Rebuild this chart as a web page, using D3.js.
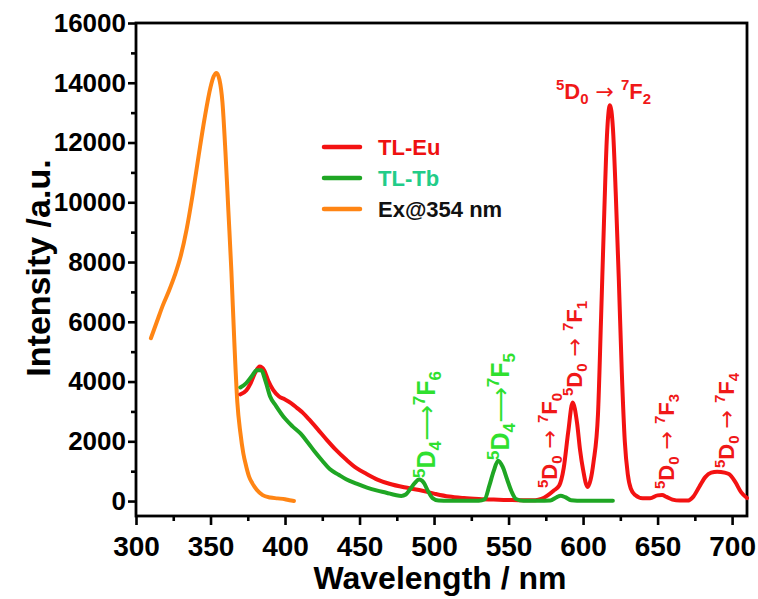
<!DOCTYPE html>
<html>
<head>
<meta charset="utf-8">
<script src="https://cdn.jsdelivr.net/npm/d3@7"></script>
<style>
  body { margin: 0; background: #fff; }
  svg { display: block; }
  text { font-family: "Liberation Sans", Arial, sans-serif; font-weight: bold; }
</style>
</head>
<body>
<svg id="chart" width="758" height="599"></svg>
<script>
// Excitation spectrum monitored at 354 nm
const exWavelength = [310, 314, 318, 322, 326, 330, 334, 338, 342, 346, 350, 352, 354, 356, 358, 360, 362, 364, 366, 368, 370, 372, 374, 376, 378, 381, 385, 390, 395, 400, 403, 406];
const exIntensity  = [5450, 6000, 6550, 7020, 7550, 8200, 9100, 10250, 11550, 12800, 13850, 14200, 14330, 14100, 13350, 11700, 9700, 7700, 5300, 3300, 2300, 1600, 1150, 800, 600, 380, 200, 120, 90, 60, 25, 0];

// Eu-doped emission
const euWavelength = [370, 374, 377, 380, 383, 386, 389, 392, 396, 400, 404, 408, 412, 416, 422, 428, 434, 441, 448, 455, 462, 470, 480, 490, 500, 510, 520, 530, 540, 550, 560, 568, 572, 576, 580, 584, 587, 590, 593, 596, 598, 600, 603, 605, 607, 610, 612, 614, 616, 618, 620, 622, 624, 626, 628, 630, 632, 635, 640, 645, 650, 653, 656, 660, 665, 670, 674, 678, 682, 686, 690, 695, 698, 702, 706, 710];
const euIntensity  = [3570, 3700, 3950, 4300, 4500, 4380, 4000, 3720, 3500, 3400, 3280, 3120, 2950, 2740, 2400, 2050, 1720, 1390, 1100, 900, 720, 580, 460, 370, 250, 150, 100, 70, 50, 35, 25, 30, 70, 180, 340, 520, 1100, 2300, 3300, 2600, 1700, 1050, 470, 700, 1300, 2900, 6000, 9300, 12200, 13250, 12500, 10200, 7400, 4300, 2000, 900, 420, 200, 90, 90, 190, 200, 140, 50, 15, 15, 150, 480, 800, 950, 980, 950, 900, 650, 300, 100];

// Tb-doped emission
const tbWavelength = [370, 374, 378, 381, 384, 387, 390, 394, 400, 405, 410, 415, 420, 425, 430, 436, 441, 448, 455, 462, 468, 474, 478, 481, 484, 487, 490, 493, 496, 499, 503, 510, 520, 530, 534, 537, 540, 543, 546, 549, 552, 555, 560, 570, 578, 582, 585, 588, 592, 600, 610, 620];
const tbIntensity  = [3800, 3950, 4200, 4380, 4380, 4000, 3500, 3180, 2760, 2500, 2280, 1980, 1650, 1350, 1070, 880, 730, 580, 450, 350, 280, 200, 170, 220, 400, 600, 720, 620, 330, 100, 20, 10, 10, 10, 60, 500, 1000, 1350, 1150, 730, 320, 70, 10, 10, 20, 120, 180, 130, 30, 10, 10, 10];

const seriesNames  = ["TL-Eu", "TL-Tb", "Ex@354 nm"];
const xTickValues  = [300, 350, 400, 450, 500, 550, 600, 650, 700];
const xMinorValues = [325, 375, 425, 475, 525, 575, 625, 675];
const yTickValues  = [0, 2000, 4000, 6000, 8000, 10000, 12000, 14000, 16000];
const yMinorValues = [1000, 3000, 5000, 7000, 9000, 11000, 13000, 15000];

const svg = d3.select("#chart");
const plotLeft = 136, plotRight = 747, plotTop = 23, plotBottom = 516;

const x = d3.scaleLinear().domain([300, 710]).range([plotLeft, plotRight]);
const y = d3.scaleLinear().domain([-500, 16000]).range([plotBottom, plotTop]);

const colors = { eu: "#f31212", tb: "#1fa624", ex: "#ff8514" };

// Axes: major ticks with labels, minor ticks without
const yAxis = svg.append("g").attr("transform", `translate(${plotLeft},0)`)
  .call(d3.axisLeft(y).tickValues(yTickValues).tickSize(8).tickPadding(2).tickFormat(d3.format("d")));
const yMinor = svg.append("g").attr("transform", `translate(${plotLeft},0)`)
  .call(d3.axisLeft(y).tickValues(yMinorValues).tickSize(5).tickFormat(""));
const xAxis = svg.append("g").attr("transform", `translate(0,${plotBottom})`)
  .call(d3.axisBottom(x).tickValues(xTickValues).tickSize(9).tickPadding(11).tickFormat(d3.format("d")));
const xMinor = svg.append("g").attr("transform", `translate(0,${plotBottom})`)
  .call(d3.axisBottom(x).tickValues(xMinorValues).tickSize(5).tickFormat(""));

[yAxis, yMinor, xAxis, xMinor].forEach(g => {
  g.select(".domain").remove();
  g.selectAll(".tick line").attr("stroke", "#000").attr("stroke-width", 2.6);
  g.selectAll(".tick text").attr("fill", "#000");
});
yAxis.selectAll(".tick text").style("font-size", "26px");
xAxis.selectAll(".tick text").style("font-size", "28px");

// Frame
svg.append("rect")
  .attr("x", plotLeft).attr("y", plotTop)
  .attr("width", plotRight - plotLeft).attr("height", plotBottom - plotTop)
  .attr("fill", "none").attr("stroke", "#000").attr("stroke-width", 2.8);

// Axis titles
svg.append("text")
  .attr("x", 440).attr("y", 589)
  .attr("text-anchor", "middle")
  .style("font-size", "32px")
  .text("Wavelength / nm");
svg.append("text")
  .attr("transform", "translate(50,268) rotate(-90)")
  .attr("text-anchor", "middle")
  .style("font-size", "34px")
  .text("Intensity /a.u.");

// Spectra
const line = d3.line().curve(d3.curveMonotoneX);
const plot = svg.append("g");
function drawSeries(wl, val, color) {
  plot.append("path")
    .attr("d", line(wl.map((w, i) => [x(w), y(val[i])])))
    .attr("fill", "none")
    .attr("stroke", color)
    .attr("stroke-width", 4)
    .attr("stroke-linejoin", "round")
    .attr("stroke-linecap", "round");
}
drawSeries(exWavelength, exIntensity, colors.ex);
drawSeries(euWavelength, euIntensity, colors.eu);
drawSeries(tbWavelength, tbIntensity, colors.tb);

// Legend
const legendColors = [colors.eu, colors.tb, colors.ex];
const legendText = ["#ee1111", "#22cc88", "#111"];
seriesNames.forEach((name, i) => {
  const ly = 147 + i * 31;
  svg.append("line")
    .attr("x1", 324).attr("x2", 360).attr("y1", ly).attr("y2", ly)
    .attr("stroke", legendColors[i]).attr("stroke-width", 4.5).attr("stroke-linecap", "round");
  svg.append("text")
    .attr("x", 378).attr("y", ly + 8)
    .attr("fill", legendText[i])
    .style("font-size", "22px")
    .text(name);
});

// Transition labels: parts are [text, role] where role is "", "sup", "sub" or "arrow"
function transition(up, upIdx, low, lowIdx, arrow) {
  return [[up[0], "sup"], [up[1], ""], [upIdx, "sub"], [arrow, "arrow"], [low[0], "sup"], [low[1], ""], [lowIdx, "sub"]];
}
function label(parts, size, color, tx, ty, rotate) {
  const t = svg.append("text")
    .attr("transform", `translate(${tx},${ty})` + (rotate ? " rotate(-90)" : ""))
    .attr("fill", color)
    .style("font-size", size + "px");
  let shift = 0;
  parts.forEach(([s, role]) => {
    const small = size * 0.68;
    const target = role === "sup" ? -size * 0.42 : role === "sub" ? size * 0.22 : 0;
    const span = t.append("tspan")
      .attr("dy", target - shift)
      .style("font-size", (role === "sup" || role === "sub" ? small : size) + "px")
      .text(s);
    if (role === "arrow") span.style("font-family", "'DejaVu Sans', sans-serif").style("font-weight", "normal");
    shift = target;
  });
}
const greenLabel = "#2fe02f", redLabel = "#f01818";
label(transition("5D", "4", "7F", "6", "\u27F6"), 25, greenLabel, 435, 478, true);
label(transition("5D", "4", "7F", "5", "\u27F6"), 25, greenLabel, 509, 460, true);
label(transition("5D", "0", "7F", "0", " \u2192 "), 22, redLabel, 557, 488, true);
label(transition("5D", "0", "7F", "1", " \u2192 "), 22, redLabel, 582, 396, true);
label(transition("5D", "0", "7F", "3", " \u2192 "), 22, redLabel, 674, 489, true);
label(transition("5D", "0", "7F", "4", " \u2192 "), 22, redLabel, 734, 468, true);
label(transition("5D", "0", "7F", "2", " \u2192 "), 22, redLabel, 556, 99, false);
</script>
</body>
</html>
